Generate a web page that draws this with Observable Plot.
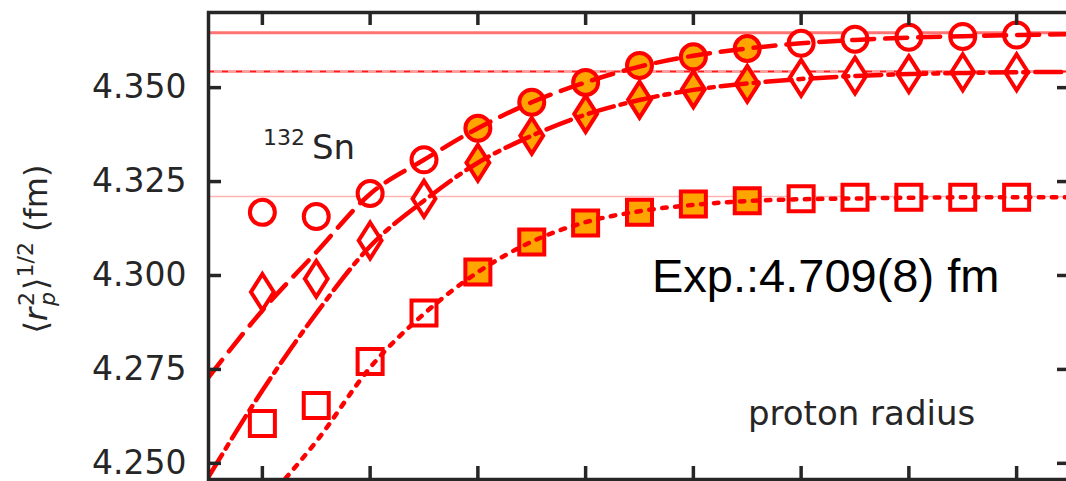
<!DOCTYPE html>
<html>
<head>
<meta charset="utf-8">
<script src="https://cdn.jsdelivr.net/npm/d3@7"></script>
<script src="https://cdn.jsdelivr.net/npm/@observablehq/plot@0.6"></script>
<style>
  html, body { margin: 0; padding: 0; background: white; }
  #chart svg { display: block; }
</style>
</head>
<body>
<div id="chart"></div>
<script>
// ---- data ----
const steps = [1, 2, 3, 4, 5, 6, 7, 8, 9, 10, 11, 12, 13, 14, 15];
const circleVals  = [4.3168, 4.3157, 4.3218, 4.3308, 4.3392, 4.3461, 4.3514, 4.3559, 4.3582, 4.3604, 4.3618, 4.3629, 4.3634, 4.3636, 4.3640];
const diamondVals = [4.2956, 4.2991, 4.3093, 4.3204, 4.3300, 4.3372, 4.3430, 4.3468, 4.3496, 4.3510, 4.3526, 4.3532, 4.3536, 4.3541, 4.3541];
const squareVals  = [4.2606, 4.2654, 4.2771, 4.2900, 4.3009, 4.3089, 4.3140, 4.3168, 4.3190, 4.3199, 4.3204, 4.3208, 4.3208, 4.3208, 4.3208];
const filledSteps = [5, 6, 7, 8, 9, 10];

const fitSteps = [0, 1, 2, 3, 4, 5, 6, 7, 8, 9, 10, 11, 12, 13, 14, 15, 16];
const circleFit  = [4.2729, 4.2907, 4.3062, 4.3217, 4.3308, 4.3392, 4.3461, 4.3514, 4.3556, 4.3585, 4.3604, 4.3618, 4.3627, 4.3633, 4.3637, 4.3640, 4.3642];
const diamondFit = [4.2464, 4.2694, 4.2899, 4.3078, 4.3199, 4.3300, 4.3372, 4.3428, 4.3467, 4.3494, 4.3511, 4.3523, 4.3531, 4.3536, 4.3539, 4.3541, 4.3542];
const squareFitSteps = [1.43, 2, 3, 4, 5, 6, 7, 8, 9, 10, 11, 12, 13, 14, 15, 16];
const squareFit  = [4.2460, 4.2558, 4.2755, 4.2898, 4.3009, 4.3090, 4.3142, 4.3171, 4.3188, 4.3198, 4.3203, 4.3205, 4.3207, 4.3208, 4.3208, 4.3208];

const asymptotes = [4.3646, 4.3543, 4.3210];
const xTicks = [1, 3, 5, 7, 9, 11, 13, 15];
const yTicks = [4.250, 4.275, 4.300, 4.325, 4.350];
const xDomain = [0, 16];
const yDomain = [4.2457, 4.3700];

// ---- build tables ----
const rows = (vals) => steps.map((n, i) => ({n, v: vals[i], filled: filledSteps.includes(n)}));
const circles = rows(circleVals);
const diamonds = rows(diamondVals);
const squares = rows(squareVals);
const fitRows = (xs, vals) => xs.map((n, i) => ({n, v: vals[i]}));

const RED = "#ff0000";
const ORANGE = "#ffa500";
const INK = "#262626";

const diamondSymbol = {
  draw(ctx, size) {
    const r = Math.sqrt(size / Math.PI);
    const w = r * 0.95, h = r * 1.5;
    ctx.moveTo(0, -h); ctx.lineTo(w, 0); ctx.lineTo(0, h); ctx.lineTo(-w, 0); ctx.closePath();
  }
};
const squareSymbol = {
  draw(ctx, size) {
    const r = Math.sqrt(size / Math.PI);
    ctx.moveTo(-r, -r); ctx.lineTo(r, -r); ctx.lineTo(r, r); ctx.lineTo(-r, r); ctx.closePath();
  }
};

const W = 1066, H = 481;
const mL = 208, mT = 12, mB = 2, mR = -4;
const frameW = W - mR - mL, frameH = H - mT - mB;
const tickLen = 13;

const fillOf = d => d.filled ? ORANGE : "white";

const chart = Plot.plot({
  width: W, height: H,
  marginLeft: mL, marginTop: mT, marginBottom: mB, marginRight: mR,
  style: {fontFamily: "DejaVu Sans", fontSize: "33px", color: INK, background: "white", overflow: "visible"},
  x: {domain: xDomain, axis: null},
  y: {domain: yDomain, axis: null},
  color: {type: "identity"},
  marks: [
    Plot.ruleY([asymptotes[0]], {stroke: "#ff7373", strokeWidth: 3}),
    Plot.ruleY([asymptotes[1]], {stroke: "#ffa0a0", strokeWidth: 3}),
    Plot.ruleY([asymptotes[1]], {stroke: "#ff1a1a", strokeWidth: 1.6, strokeDasharray: "6,8"}),
    Plot.ruleY([asymptotes[2]], {stroke: "#ffb3b3", strokeWidth: 1.5}),

    Plot.dot(circles, {x: "n", y: "v", r: 12.5, symbol: "circle", stroke: RED, strokeWidth: 4, fill: fillOf}),
    Plot.dot(diamonds, {x: "n", y: "v", r: 12, symbol: diamondSymbol, stroke: RED, strokeWidth: 4, fill: fillOf, strokeLinejoin: "miter"}),
    Plot.dot(squares, {x: "n", y: "v", r: 12.5, symbol: squareSymbol, stroke: RED, strokeWidth: 4, fill: fillOf, strokeLinejoin: "miter"}),

    Plot.line(fitRows(fitSteps, circleFit), {x: "n", y: "v", stroke: RED, strokeWidth: 4.5, strokeDasharray: "22,11", curve: "monotone-x", clip: true}),
    Plot.line(fitRows(fitSteps, diamondFit), {x: "n", y: "v", stroke: RED, strokeWidth: 4.5, strokeDasharray: "26,7,5,7", curve: "monotone-x", clip: true}),
    Plot.line(fitRows(squareFitSteps, squareFit), {x: "n", y: "v", stroke: RED, strokeWidth: 4.5, strokeDasharray: "4.5,8.5", curve: "monotone-x", clip: true}),

    Plot.tickX(xTicks, {x: d => d, stroke: INK, strokeWidth: 3.5, insetBottom: frameH - tickLen}),
    Plot.tickX(xTicks, {x: d => d, stroke: INK, strokeWidth: 3.5, insetTop: frameH - tickLen}),
    Plot.tickY(yTicks, {y: d => d, stroke: INK, strokeWidth: 3.5, insetRight: frameW - tickLen}),
    Plot.tickY(yTicks, {y: d => d, stroke: INK, strokeWidth: 3.5, insetLeft: frameW - tickLen}),
    Plot.frame({stroke: INK, strokeWidth: 3.5}),
    Plot.axisY(yTicks, {tickSize: 0, tickPadding: 22, tickFormat: d3.format(".3f"), fontSize: 33, fill: INK, label: null})
  ]
});

const svg = d3.select(chart);
// annotations
const ann = (x, y, family, size, fill, txt) =>
  svg.append("text").attr("x", x).attr("y", y).attr("text-anchor", "start")
    .attr("font-family", family).attr("font-size", size).attr("fill", fill).text(txt);
ann(263, 145, "DejaVu Sans", 22, INK, "132");
ann(312, 159, "DejaVu Sans", 34, INK, "Sn");
ann(652, 292, "Liberation Sans", 47, "#000", "Exp.:4.709(8) fm");
ann(748, 425, "DejaVu Sans", 34, INK, "proton radius");

// y label
const yl = svg.append("text")
  .attr("transform", "translate(47,249) rotate(-90)")
  .attr("text-anchor", "middle")
  .attr("font-family", "DejaVu Sans").attr("font-size", 32).attr("fill", INK);
yl.append("tspan").text("\u27E8");
yl.append("tspan").attr("font-style", "italic").text("r");
yl.append("tspan").attr("font-size", 22).attr("dy", -13).attr("dx", 2).text("2");
yl.append("tspan").attr("font-size", 22).attr("font-style", "italic").attr("dy", 21).attr("dx", -14).text("p");
yl.append("tspan").attr("dy", -8).attr("dx", 2).text("\u27E9");
yl.append("tspan").attr("font-size", 22).attr("dy", -14).text("1/2");
yl.append("tspan").attr("dy", 14).text("\u00A0(fm)");

document.getElementById("chart").appendChild(chart);
</script>
</body>
</html>
